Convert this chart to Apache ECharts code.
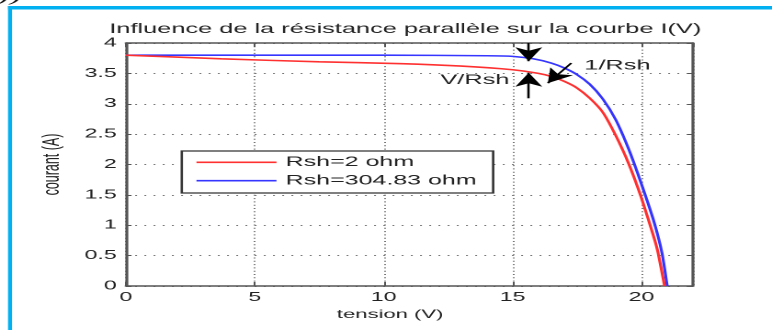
<!DOCTYPE html>
<html>
<head>
<meta charset="utf-8">
<script src="https://cdn.jsdelivr.net/npm/echarts@6/dist/echarts.min.js"></script>
<style>
  html, body { margin: 0; padding: 0; background: #fff; overflow: hidden; }
  /* the figure is laid out narrow, then widened horizontally */
  #chart { width: 420px; height: 330px; transform: scaleX(1.838); transform-origin: 0 0; }
</style>
</head>
<body>
<div id="chart"></div>
<script>
// I(V) curves of a PV cell for two parallel (shunt) resistances
const seriesNames = ['Rsh=2 ohm', 'Rsh=304.83 ohm'];

const redV = [0, 3.7, 7.5, 10.7, 13, 15, 16, 16.5, 17.0, 17.5, 18.0, 18.5, 19.0, 19.5, 20.0, 20.5, 20.65, 20.9];
const redI = [3.80, 3.74, 3.69, 3.66, 3.62, 3.56, 3.50, 3.45, 3.37, 3.26, 3.09, 2.86, 2.48, 2.02, 1.45, 0.78, 0.54, 0];

const blueV = [0, 5, 10, 14, 15, 15.8, 16.5, 17.0, 17.5, 18.0, 18.5, 19.0, 19.5, 20.0, 20.5, 20.8, 21.0];
const blueI = [3.80, 3.80, 3.80, 3.79, 3.78, 3.74, 3.67, 3.59, 3.48, 3.32, 3.08, 2.74, 2.26, 1.68, 1.04, 0.54, 0];

// axis ranges
const xRange = [0, 22, 5];
const yRange = [0, 4, 0.5];

// annotation arrows [V0, I0, V1, I1] (tail -> head) and their texts
const arrows = [
  [15.63, 4.00, 15.63, 3.70],
  [15.63, 3.09, 15.63, 3.51],
  [17.28, 3.67, 16.37, 3.34]
];
const notes = [
  ['V/Rsh', 13.54, 3.39],
  ['1/Rsh', 19.07, 3.63]
];

const ink = '#222';
const frame = '#555';
const font = 'Liberation Sans, Arial, Helvetica, sans-serif';

function pairs(xs, ys) { return xs.map((x, i) => [x, ys[i]]); }

function axisBase(range, extra) {
  return Object.assign({
    type: 'value',
    min: range[0], max: range[1], interval: range[2],
    axisLine: { show: true, onZero: false, lineStyle: { color: frame, width: 1.6 } },
    axisTick: { show: true, inside: true, length: 3, lineStyle: { color: frame, width: 1 } },
    axisLabel: { show: false },
    splitLine: { show: false }
  }, extra);
}

const chart = echarts.init(document.getElementById('chart'), null, { devicePixelRatio: 2, renderer: 'canvas' });

chart.setOption({
  animation: false,
  backgroundColor: '#fff',
  textStyle: { fontFamily: font },
  title: {
    text: 'Influence de la résistance parallèle sur la courbe I(V)',
    left: 215.5, top: 17, textAlign: 'center',
    textStyle: { fontSize: 13.8, fontWeight: 'normal', color: ink, fontFamily: font }
  },
  grid: { left: 68.55, right: 43, top: 43, bottom: 44 },
  legend: {
    orient: 'vertical',
    left: 98.9, top: 151,
    padding: [3.8, 9, 4.8, 8],
    itemWidth: 43.5, itemHeight: 1.6, itemGap: 3.4,
    icon: 'rect',
    backgroundColor: '#fff',
    borderColor: '#333', borderWidth: 1.3, borderRadius: 0,
    textStyle: { fontSize: 13.6, color: ink, lineHeight: 15, fontFamily: font },
    data: seriesNames
  },
  xAxis: [
    axisBase(xRange, {
      position: 'bottom',
      name: 'tension (V)', nameLocation: 'middle', nameGap: 22,
      nameTextStyle: { fontSize: 12, color: ink, padding: [0, 21, 0, 0], fontFamily: font },
      axisTick: { show: true, inside: true, length: 4, lineStyle: { color: frame, width: 1 } },
      axisLabel: { show: true, fontSize: 12.6, color: ink, margin: 5, showMaxLabel: false, fontFamily: font },
      splitLine: { show: true, lineStyle: { color: '#777', width: 1, type: [1, 2.3] } }
    }),
    axisBase(xRange, {
      position: 'top',
      axisTick: { show: true, inside: true, length: 4, lineStyle: { color: frame, width: 1 } }
    })
  ],
  yAxis: [
    axisBase(yRange, {
      position: 'left',
      name: 'courant (A)', nameLocation: 'middle', nameGap: 31,
      nameTextStyle: { fontSize: 12.5, color: ink, fontFamily: font },
      axisLabel: { show: true, fontSize: 12.6, color: ink, margin: 5, fontFamily: font },
      splitLine: { show: true, lineStyle: { color: '#777', width: 1, type: [1, 4] } }
    }),
    axisBase(yRange, { position: 'right' })
  ],
  series: [
    {
      name: seriesNames[0], type: 'line',
      data: pairs(redV, redI),
      smooth: 0.2,
      symbol: 'none',
      lineStyle: { color: '#ff3030', width: 1.6 },
      itemStyle: { color: '#ff3030' },
      z: 3
    },
    {
      name: seriesNames[1], type: 'line',
      data: pairs(blueV, blueI),
      smooth: 0.2,
      symbol: 'none',
      lineStyle: { color: '#3535ff', width: 1.6 },
      itemStyle: { color: '#3535ff' },
      z: 2,
      markLine: {
        silent: true,
        animation: false,
        symbol: ['none', 'arrow'],
        symbolSize: [1, 13],
        label: { show: false },
        lineStyle: { color: '#000', width: 1.3, type: 'solid' },
        emphasis: { disabled: true },
        data: arrows.map(a => [
          { coord: [a[0], a[1]] },
          { coord: [a[2], a[3]], symbolSize: [11, 14] }
        ])
      },
      markPoint: {
        silent: true,
        animation: false,
        symbol: 'circle', symbolSize: 1,
        itemStyle: { color: 'rgba(0,0,0,0)' },
        label: {
          show: true, position: 'inside',
          formatter: p => p.name,
          fontSize: 13.8, color: ink, fontFamily: font
        },
        data: notes.map(n => ({ name: n[0], coord: [n[1], n[2]] }))
      }
    }
  ],
  graphic: [
    { type: 'rect', shape: { x: 4.35, y: 6, width: 2.2, height: 330 }, style: { fill: '#00b0f0' }, silent: true },
    { type: 'rect', shape: { x: 4.35, y: 6, width: 420, height: 3.5 }, style: { fill: '#00b0f0' }, silent: true },
    { type: 'text', x: -1, y: -15, silent: true,
      style: { text: '))', font: 'italic 20px "Liberation Serif", serif', fill: '#111' } }
  ]
});
</script>
</body>
</html>
